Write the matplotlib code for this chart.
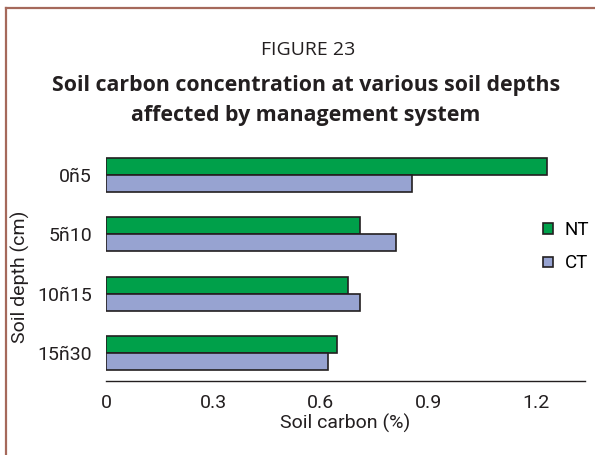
import matplotlib
matplotlib.use("Agg")
import matplotlib.pyplot as plt
import numpy as np

depths = ["0ñ5", "5ñ10", "10ñ15", "15ñ30"]
nt_values = [1.23, 0.71, 0.675, 0.645]
ct_values = [0.855, 0.81, 0.71, 0.62]
series_names = ["NT", "CT"]
x_ticks = [0, 0.3, 0.6, 0.9, 1.2]
x_tick_labels = ["0", "0.3", "0.6", "0.9", "1.2"]

NT_COLOR = "#00a04a"
CT_COLOR = "#97a3d1"
EDGE = "#231f20"
TXT_FONT = ["Roboto", "DejaVu Sans"]
TXT_W = "normal"
TITLE_FONT = ["Open Sans", "DejaVu Sans"]

W, H = 595, 455
fig = plt.figure(figsize=(W / 100, H / 100), dpi=100)

# frame
fig.add_artist(plt.Line2D([6 / W, 6 / W], [0, 1 - 8 / H], color="#a5695b", lw=1.6))
fig.add_artist(plt.Line2D([6 / W, 1], [1 - 8 / H, 1 - 8 / H], color="#a5695b", lw=1.6))

ax = fig.add_axes([106 / W, 1 - 381 / H, (585 - 106) / W, (381 - 147) / H])
y = np.arange(len(depths))
bh = 0.285
ax.barh(y - bh / 2, nt_values, height=bh, color=NT_COLOR, edgecolor=EDGE, linewidth=1.2, label=series_names[0])
ax.barh(y + bh / 2, ct_values, height=bh, color=CT_COLOR, edgecolor=EDGE, linewidth=1.2, label=series_names[1])
ax.set_ylim(3.472, -0.472)
ax.set_xlim(0, 1.337)
for s in ["top", "right", "left"]:
    ax.spines[s].set_visible(False)
ax.spines["bottom"].set_linewidth(1.0)
ax.spines["bottom"].set_color(EDGE)
ax.set_yticks(y)
ax.set_yticklabels(depths, fontsize=14, family=TXT_FONT, weight=TXT_W, color="#231f20")
ax.set_xticks(x_ticks)
ax.set_xticklabels(x_tick_labels, fontsize=14, family=TXT_FONT, weight=TXT_W, color="#231f20")
ax.tick_params(axis="y", length=0, pad=10)
ax.tick_params(axis="x", length=0, pad=9)
ax.set_xlabel("Soil carbon (%)", fontsize=14, family=TXT_FONT, weight=TXT_W, color="#231f20", labelpad=2)
fig.text(20 / W, 1 - 277 / H, "Soil depth (cm)", rotation=90, ha="center", va="center",
         fontsize=14, family=TXT_FONT, weight=TXT_W, color="#231f20")

leg = ax.legend(loc="center left", bbox_to_anchor=(534 / W, 1 - 247 / H), bbox_transform=fig.transFigure,
                frameon=False, prop={"family": TXT_FONT, "size": 13.5, "weight": TXT_W},
                handlelength=0.5, handleheight=0.5, handletextpad=0.65, labelspacing=0.8, borderpad=0)

fig.text(308 / W, 1 - 50 / H, "FIGURE 23", ha="center", va="center", fontsize=14, family=TITLE_FONT, color="#231f20")
fig.text(306 / W, 1 - 86 / H, "Soil carbon concentration at various soil depths", ha="center", va="center",
         fontsize=15.4, fontweight="bold", family=TITLE_FONT, color="#231f20")
fig.text(306 / W, 1 - 116 / H, "affected by management system", ha="center", va="center",
         fontsize=15.4, fontweight="bold", family=TITLE_FONT, color="#231f20")

fig.savefig("out.png", dpi=100)
